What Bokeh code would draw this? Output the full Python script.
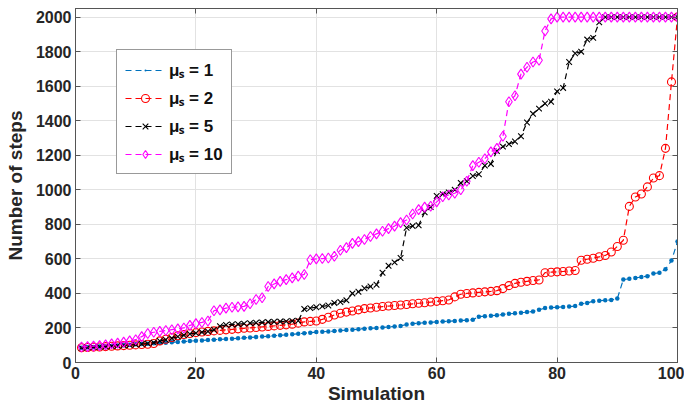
from bokeh.plotting import figure
from bokeh.models import LinearAxis, FixedTicker, Legend, LegendItem, Range1d, CustomJSTickFormatter
from bokeh.embed import file_html
from bokeh.resources import INLINE

simulation = list(range(1, 101))

steps_mu1 = [85, 88, 90, 92, 94, 96, 98, 100, 103, 105,
             107, 109, 111, 113, 115, 117, 119, 121, 124, 126,
             128, 130, 132, 134, 136, 138, 140, 143, 145, 147,
             150, 152, 155, 158, 160, 163, 166, 170, 173, 176,
             178, 180, 182, 185, 188, 190, 193, 196, 198, 200,
             203, 206, 209, 212, 220, 225, 228, 230, 232, 235,
             237, 239, 241, 243, 245, 248, 265, 268, 271, 274,
             278, 282, 285, 288, 292, 296, 305, 315, 318, 320,
             322, 324, 327, 340, 345, 355, 358, 360, 362, 370,
             480, 485, 490, 495, 500, 515, 520, 540, 590, 700]

steps_mu2 = [85, 87, 89, 90, 92, 94, 96, 98, 100, 102,
             104, 106, 110, 125, 135, 145, 155, 162, 168, 173,
             177, 180, 183, 186, 189, 192, 195, 198, 200, 203,
             206, 209, 212, 215, 218, 222, 228, 235, 238, 240,
             250, 262, 275, 285, 292, 298, 305, 312, 316, 320,
             324, 327, 330, 333, 336, 340, 343, 346, 350, 354,
             358, 362, 380, 395, 400, 403, 406, 409, 412, 416,
             428, 445, 458, 465, 470, 475, 478, 520, 523, 525,
             527, 530, 533, 592, 598, 604, 612, 620, 640, 672,
             708, 904, 958, 976, 1017, 1068, 1082, 1240, 1625, 2000]

steps_mu5 = [85, 87, 89, 91, 93, 95, 97, 99, 101, 104,
             107, 110, 115, 125, 132, 140, 150, 158, 165, 170,
             175, 180, 190, 210, 218, 220, 222, 225, 228, 230,
             232, 234, 236, 237, 238, 240, 242, 310, 315, 320,
             325, 330, 345, 350, 360, 400, 410, 430, 440, 450,
             520, 560, 580, 605, 780, 790, 795, 870, 900, 965,
             975, 985, 1000, 1040, 1050, 1080, 1090, 1140, 1150, 1225,
             1250, 1265, 1280, 1310, 1390, 1440, 1470, 1500, 1510, 1570,
             1590, 1740, 1790, 1800, 1870, 1880, 1970, 2000, 2000, 2000,
             2000, 2000, 2000, 2000, 2000, 2000, 2000, 2000, 2000, 2000]

steps_mu10 = [90, 92, 95, 98, 102, 108, 112, 118, 125, 132,
              150, 168, 175, 180, 185, 190, 195, 200, 215, 225,
              232, 240, 300, 305, 315, 320, 322, 325, 340, 365,
              375, 440, 455, 470, 480, 490, 500, 510, 595, 600,
              602, 605, 615, 650, 665, 690, 700, 712, 730, 745,
              760, 775, 790, 810, 825, 860, 885, 900, 905, 930,
              960, 970, 980, 1000, 1050, 1140, 1160, 1180, 1220, 1240,
              1310, 1510, 1545, 1670, 1710, 1740, 1750, 1920, 1990, 2000,
              2000, 2000, 2000, 2000, 2000, 2000, 2000, 2000, 2000, 2000,
              2000, 2000, 2000, 2000, 2000, 2000, 2000, 2000, 2000, 2000]

x_ticks = [0, 20, 40, 60, 80, 100]
y_ticks = [0, 200, 400, 600, 800, 1000, 1200, 1400, 1600, 1800, 2000]
legend_labels = ["\u03bc\u209b = 1", "\u03bc\u209b = 2", "\u03bc\u209b = 5", "\u03bc\u209b = 10"]
x_label = "Simulation"
y_label = "Number of steps"

FONT = "Liberation Sans"
AX_COL = "#555555"
TXT_COL = "#262626"

p = figure(width=684, height=406, output_backend="svg", toolbar_location=None,
           x_range=Range1d(0, 100), y_range=Range1d(0, 2050),
           min_border_left=75, min_border_right=7, min_border_top=8, min_border_bottom=42,
           background_fill_color="white", border_fill_color="white")
p.outline_line_color = AX_COL

for ax in (p.xaxis[0], p.yaxis[0]):
    ax.axis_line_color = AX_COL
    ax.major_tick_line_color = AX_COL
    ax.major_tick_in = 5
    ax.major_tick_out = 0
    ax.minor_tick_line_color = None
    ax.minor_tick_out = 0
    ax.major_label_text_font = FONT
    ax.major_label_text_font_style = "bold"
    ax.major_label_text_font_size = "16px"
    ax.major_label_text_color = TXT_COL
    ax.major_label_standoff = 4
    ax.axis_label_text_font = FONT
    ax.axis_label_text_font_style = "bold"
    ax.axis_label_text_font_size = "19px"
    ax.axis_label_text_color = TXT_COL

p.xaxis[0].ticker = FixedTicker(ticks=x_ticks)
p.yaxis[0].ticker = FixedTicker(ticks=y_ticks)
p.xaxis[0].axis_label = x_label
p.yaxis[0].axis_label = y_label
p.xaxis[0].axis_label_standoff = 1
p.yaxis[0].axis_label_standoff = 7

for side, ticks in (("above", x_ticks), ("right", y_ticks)):
    ax = LinearAxis(ticker=FixedTicker(ticks=ticks),
                    formatter=CustomJSTickFormatter(code="return ''"),
                    major_label_text_font_size="0px", major_label_standoff=0,
                    major_tick_in=5, major_tick_out=0, minor_tick_out=0,
                    minor_tick_line_color=None,
                    axis_line_color=AX_COL, major_tick_line_color=AX_COL)
    p.add_layout(ax, side)

p.xgrid.ticker = FixedTicker(ticks=x_ticks)
p.ygrid.ticker = FixedTicker(ticks=y_ticks)
p.xgrid.grid_line_color = "#e2e2e2"
p.ygrid.grid_line_color = "#e2e2e2"

series = [
    (steps_mu1, "#0072BD", "dot", 18, "#0072BD"),
    (steps_mu2, "#FF0000", "circle", 8, None),
    (steps_mu5, "#000000", "x", 8, None),
    (steps_mu10, "#FF00FF", "diamond", 10, None),
]

items = []
for (vals, col, mk, sz, fill), lab in zip(series, legend_labels):
    r_line = p.line(simulation, vals, line_color=col, line_width=1.2, line_dash="6 4")
    r_mark = p.scatter(simulation, vals, marker=mk, size=sz, line_color=col,
                       fill_color=fill, line_width=1.1)
    items.append(LegendItem(label=lab, renderers=[r_line, r_mark]))

legend = Legend(items=items, location="top_left", margin=41,
                border_line_color="#333333", border_line_width=1,
                background_fill_color="white", background_fill_alpha=1.0,
                label_text_font=FONT,
                label_text_font_style="bold", label_text_font_size="17px",
                label_text_color="#111111",
                glyph_width=40, glyph_height=20, label_height=20,
                label_standoff=4, spacing=5, padding=8)
p.add_layout(legend)

open("out.html", "w").write(file_html(p, INLINE))
